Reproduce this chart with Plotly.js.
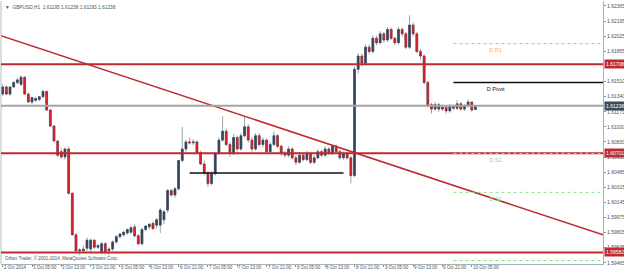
<!DOCTYPE html>
<html><head><meta charset="utf-8">
<script src="https://cdn.plot.ly/plotly-3.0.1.min.js"></script>
<style>html,body{margin:0;padding:0;background:#fff}#c{width:624px;height:273px}</style>
</head><body><div id="c"></div>
<script>
const open = [1.6137,1.6145,1.6137,1.6145,1.6150,1.6148,1.6156,1.6137,1.6128,1.6130,
1.6131,1.6134,1.6140,1.6119,1.6101,1.6084,1.6072,1.6066,1.6075,1.6025,
1.5978,1.5960,1.5962,1.5963,1.5962,1.5972,1.5964,1.5959,1.5968,1.5962,
1.5962,1.5970,1.5976,1.5978,1.5980,1.5981,1.5987,1.5977,1.5968,1.5984,
1.5987,1.5991,1.5989,1.5989,1.5995,1.6006,1.6028,1.6023,1.6030,1.6062,
1.6075,1.6083,1.6082,1.6083,1.6071,1.6058,1.6048,1.6036,1.6047,1.6070,
1.6085,1.6095,1.6080,1.6070,1.6088,1.6075,1.6090,1.6100,1.6085,1.6075,
1.6090,1.6080,1.6085,1.6072,1.6080,1.6090,1.6078,1.6070,1.6068,1.6075,
1.6065,1.6060,1.6068,1.6063,1.6070,1.6060,1.6065,1.6072,1.6068,1.6075,
1.6070,1.6078,1.6072,1.6065,1.6070,1.6065,1.6045,1.6165,1.6180,1.6172,
1.6190,1.6185,1.6200,1.6195,1.6205,1.6198,1.6210,1.6200,1.6195,1.6210,
1.6205,1.6190,1.6215,1.6205,1.6185,1.6180,1.6150,1.6125,1.6120,1.6125,
1.6120,1.6122,1.6118,1.6123,1.6121,1.6126,1.6120,1.6124,1.6128,1.61195];
const high = [1.6148,1.6147,1.6146,1.6152,1.6155,1.6158,1.6157,1.6139,1.6134,1.6134,
1.6135,1.6142,1.6141,1.6120,1.6102,1.6085,1.6076,1.6077,1.6078,1.6026,
1.5980,1.5963,1.5966,1.5975,1.5974,1.5973,1.5968,1.5970,1.5970,1.5964,
1.5972,1.5978,1.5980,1.5982,1.5985,1.5988,1.5990,1.5979,1.5986,1.5989,
1.5991,1.5993,1.5997,1.6008,1.6006,1.6030,1.6030,1.6032,1.6062,1.6100,
1.6085,1.6088,1.6086,1.6085,1.6073,1.6062,1.6050,1.6050,1.6072,1.6088,
1.6112,1.6098,1.6083,1.6092,1.6090,1.6093,1.6112,1.6103,1.6088,1.6093,
1.6093,1.6088,1.6087,1.6083,1.6095,1.6092,1.6080,1.6073,1.6078,1.6077,
1.6068,1.6071,1.6070,1.6073,1.6072,1.6068,1.6075,1.6074,1.6078,1.6077,
1.6080,1.6080,1.6074,1.6072,1.6072,1.6067,1.6168,1.6183,1.6183,1.6193,
1.6193,1.6203,1.6203,1.6208,1.6207,1.6213,1.6212,1.6202,1.6213,1.6212,
1.6207,1.6226,1.6218,1.6207,1.6188,1.6182,1.6152,1.6127,1.6128,1.6127,
1.6125,1.6124,1.6126,1.6125,1.6130,1.6128,1.6126,1.6131,1.6129,1.61238];
const low = [1.6135,1.6136,1.6135,1.6144,1.6148,1.6146,1.6136,1.6127,1.6125,1.6128,
1.6129,1.6132,1.6118,1.6100,1.6083,1.6066,1.6064,1.6063,1.6023,1.5978,
1.5958,1.5955,1.5958,1.5960,1.5958,1.5962,1.5962,1.5956,1.5956,1.5955,
1.5960,1.5968,1.5974,1.5976,1.5978,1.5979,1.5975,1.5966,1.5966,1.5982,
1.5984,1.5984,1.5985,1.5980,1.5990,1.6003,1.6021,1.6020,1.6028,1.6060,
1.6072,1.6080,1.6079,1.6070,1.6057,1.6045,1.6032,1.6034,1.6045,1.6068,
1.6083,1.6078,1.6066,1.6068,1.6072,1.6073,1.6088,1.6082,1.6072,1.6073,
1.6078,1.6077,1.6070,1.6070,1.6078,1.6076,1.6067,1.6065,1.6066,1.6063,
1.6057,1.6058,1.6061,1.6061,1.6058,1.6058,1.6063,1.6066,1.6066,1.6068,
1.6068,1.6070,1.6063,1.6063,1.6063,1.6036,1.6043,1.6160,1.6168,1.6170,
1.6182,1.6183,1.6192,1.6193,1.6195,1.6196,1.6198,1.6192,1.6193,1.6202,
1.6188,1.6188,1.6202,1.6183,1.6176,1.6148,1.6122,1.6115,1.6118,1.6117,
1.6118,1.6115,1.6116,1.6119,1.6119,1.6118,1.6118,1.6122,1.6117,1.61193];
const close = [1.6145,1.6137,1.6145,1.6150,1.6153,1.6156,1.6137,1.6128,1.6133,1.6132,
1.6134,1.6140,1.6119,1.6101,1.6084,1.6068,1.6066,1.6075,1.6025,1.5978,
1.5960,1.5961,1.5960,1.5972,1.5972,1.5964,1.5966,1.5968,1.5958,1.5960,
1.5970,1.5976,1.5979,1.5981,1.5984,1.5986,1.5977,1.5968,1.5984,1.5988,
1.5990,1.5985,1.5995,1.6006,1.6004,1.6028,1.6023,1.6030,1.6062,1.6075,
1.6083,1.6082,1.6083,1.6071,1.6058,1.6048,1.6036,1.6047,1.6070,1.6085,
1.6095,1.6080,1.6070,1.6088,1.6075,1.6090,1.6100,1.6085,1.6075,1.6090,
1.6080,1.6085,1.6072,1.6080,1.6090,1.6078,1.6070,1.6068,1.6075,1.6065,
1.6060,1.6068,1.6063,1.6070,1.6060,1.6065,1.6072,1.6068,1.6075,1.6070,
1.6078,1.6072,1.6065,1.6070,1.6065,1.6045,1.6165,1.6180,1.6172,1.6190,
1.6185,1.6200,1.6195,1.6205,1.6198,1.6210,1.6200,1.6195,1.6210,1.6205,
1.6190,1.6215,1.6205,1.6185,1.6180,1.6150,1.6125,1.6120,1.6125,1.6120,
1.6122,1.6118,1.6123,1.6121,1.6126,1.6120,1.6124,1.6128,1.6119,1.61238];

const tickBars = [0,8,16,24,32,40,48,56,64,72,80,88,96,104,112,120,128];
const tickLabels = ["2 Oct 2014","3 Oct 05:00","3 Oct 13:00","3 Oct 21:00","6 Oct 05:00","6 Oct 13:00","6 Oct 21:00","7 Oct 05:00","7 Oct 13:00","7 Oct 21:00","8 Oct 05:00","8 Oct 13:00","8 Oct 21:00","9 Oct 05:00","9 Oct 13:00","9 Oct 21:00","10 Oct 05:00"];
const priceTicks = [1.62365,1.62195,1.62025,1.61855,1.61510,1.61340,1.61170,1.61000,1.60830,1.60655,1.60485,1.60315,1.60145,1.59975,1.59805,1.59635,1.59465];
const levelLines = [1.61708,1.60701,1.59582];
const bidPrice = 1.61238;
const trendBars = [-0.5, 163.8];
const trendPrices = [1.6203, 1.5978];
const pivotNames = ["D R1","D Pivot","D S1","D S2","D S3"];
const pivotLevels = [1.6194,1.6150,1.6070,1.6026,1.5949];
const pivotStartBar = 123;
const pivotLabelBar = 134.5;
const supportBars = [51, 93];
const supportPrice = 1.6048;
const header = "GBPUSD,H1  1.61195 1.61238 1.61193 1.61238";
const footer = "Orbex Trader, © 2001-2014, MetaQuotes Software Corp.";

const X_RANGE = [-0.46, 163.8];
const Y_RANGE = [1.59451, 1.62421];
const RED = '#bf2a2e', BULL = '#34425a', BEAR = '#e5232b', WICK = '#9aa3ad';
const FONT = 'Liberation Sans, Arial, sans-serif';
const TXT = '#4a5560';
const pivotColors = ['#f6ad5a','#111','#86e086','#86e086','#86e086'];

const xs = open.map((_, i) => i);
const bodyHi = open.map((o, i) => Math.max(o, close[i]));
const bodyLo = open.map((o, i) => Math.min(o, close[i]));

const traces = [
  {type:'candlestick', x:xs, open:open, high:high, low:low, close:close,
   increasing:{line:{color:WICK,width:1}, fillcolor:BULL},
   decreasing:{line:{color:WICK,width:1}, fillcolor:BEAR}, whiskerwidth:0, hoverinfo:'skip'},
  {type:'candlestick', x:xs, open:open, high:bodyHi, low:bodyLo, close:close,
   increasing:{line:{color:BULL,width:0.5}, fillcolor:BULL},
   decreasing:{line:{color:'#8a1c20',width:0.5}, fillcolor:BEAR}, whiskerwidth:0, hoverinfo:'skip'},
  {type:'scatter', mode:'lines', x:trendBars, y:trendPrices, line:{color:RED,width:1.5}, hoverinfo:'skip'},
  {type:'scatter', mode:'markers+text', x:pivotLevels.map(() => pivotLabelBar), y:pivotLevels, text:pivotNames,
   marker:{size:5, color:'rgba(0,0,0,0)'},
   textposition:'bottom center', cliponaxis:true, hoverinfo:'skip',
   textfont:{family:FONT, size:5.5, color:pivotColors}}
];

const shapes = [];
shapes.push({type:'line', xref:'paper', x0:0, x1:0, yref:'paper', y0:0, y1:1, line:{color:'#b8bec4',width:1}});
levelLines.forEach(v => shapes.push({type:'line', xref:'paper', x0:0, x1:1, yref:'y', y0:v, y1:v, line:{color:RED,width:2}}));
shapes.push({type:'line', xref:'paper', x0:0, x1:1, yref:'y', y0:bidPrice, y1:bidPrice, line:{color:'#a4a4a4',width:2}});
shapes.push({type:'line', xref:'x', x0:supportBars[0], x1:supportBars[1], yref:'y', y0:supportPrice, y1:supportPrice, line:{color:'#111',width:1.5}});
pivotLevels.forEach((v, i) => {
  const isP = pivotNames[i] === 'D Pivot';
  shapes.push({type:'line', xref:'x', x0:pivotStartBar, x1:X_RANGE[1], yref:'y', y0:v, y1:v,
    line:{color:pivotColors[i], width:isP?1.5:1, dash:isP?'solid':'dot'}});
});

const annotations = [];
levelLines.forEach(v => annotations.push({xref:'paper', x:1, xanchor:'left', xshift:1, yref:'y', y:v, yanchor:'middle',
  text:v.toFixed(5), showarrow:false, bgcolor:RED, borderpad:1, font:{family:FONT,size:5,color:'#fff'}}));
annotations.push({xref:'paper', x:1, xanchor:'left', xshift:1, yref:'y', y:bidPrice, yanchor:'middle',
  text:bidPrice.toFixed(5), showarrow:false, bgcolor:'#3d4a5c', borderpad:1, font:{family:FONT,size:5,color:'#fff'}});
annotations.push({xref:'paper', x:0, xanchor:'left', xshift:2, yref:'paper', y:1, yanchor:'top', yshift:-2,
  text:'▼  ' + header, showarrow:false, font:{family:FONT,size:4.8,color:TXT}});
annotations.push({xref:'paper', x:0, xanchor:'left', xshift:2, yref:'paper', y:0, yanchor:'bottom', yshift:1,
  text:footer, showarrow:false, font:{family:FONT,size:4.5,color:TXT}});
tickBars.forEach((b, i) => annotations.push({xref:'x', x:b, xanchor:'left', xshift:0, yref:'paper', y:0, yanchor:'top', yshift:0,
  text:tickLabels[i], showarrow:false, borderpad:0, font:{family:FONT,size:4.5,color:TXT}}));

const layout = {
  width:624, height:273, margin:{l:1, r:21, t:1, b:9},
  paper_bgcolor:'#fff', plot_bgcolor:'#fff', showlegend:false,
  xaxis:{range:X_RANGE, tickvals:tickBars, showticklabels:false, ticks:'outside', ticklen:2, tickcolor:'#8a939c',
    showgrid:false, zeroline:false, showline:true, linecolor:'#a8b0b8', mirror:false,
    rangeslider:{visible:false}, fixedrange:true},
  yaxis:{range:Y_RANGE, side:'right', tickvals:priceTicks, ticktext:priceTicks.map(v=>v.toFixed(5)), ticks:'outside', ticklen:2,
    tickcolor:'#8a939c', showgrid:false, zeroline:false, showline:true, linecolor:'#a8b0b8',
    tickfont:{family:FONT,size:5,color:TXT}, fixedrange:true},
  shapes:shapes, annotations:annotations
};
Plotly.newPlot('c', traces, layout, {displayModeBar:false, staticPlot:true});
</script></body></html>
